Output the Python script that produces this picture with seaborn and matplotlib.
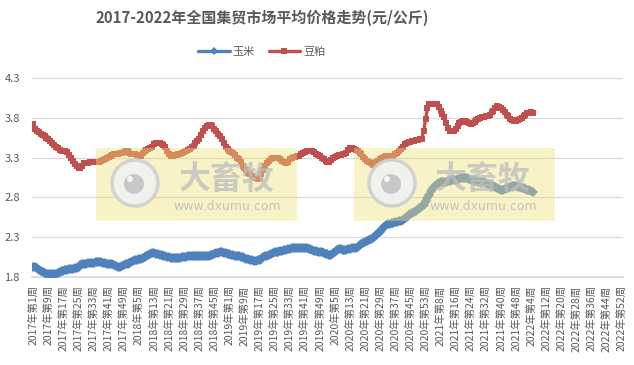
import seaborn as sns
import matplotlib.pyplot as plt
from matplotlib.patches import Rectangle, Ellipse
from matplotlib.lines import Line2D
import numpy as np
import pandas as pd

# week labels: 2017-2022, 2020 has 53 weeks
years = [2017, 2018, 2019, 2020, 2021, 2022]
weeks_per_year = [52, 52, 52, 53, 52, 52]
week_labels = [f"{y}年第{w}周" for y, n in zip(years, weeks_per_year) for w in range(1, n + 1)]

# 豆粕 (soybean meal), yuan/kg, weekly
soymeal = [
    # 2017
    3.72, 3.66, 3.64, 3.62, 3.60, 3.58, 3.57, 3.55, 3.53, 3.51, 3.48, 3.46, 3.44,
    3.42, 3.40, 3.39, 3.39, 3.38, 3.37, 3.33, 3.30, 3.26, 3.22, 3.19, 3.17, 3.17,
    3.20, 3.23, 3.23, 3.23, 3.24, 3.24, 3.24, 3.24, 3.25, 3.25, 3.26, 3.27, 3.28,
    3.30, 3.31, 3.32, 3.33, 3.34, 3.34, 3.35, 3.36, 3.36, 3.37, 3.38, 3.38, 3.36,
    # 2018
    3.35, 3.34, 3.34, 3.33, 3.32, 3.32, 3.36, 3.39, 3.40, 3.41, 3.42, 3.44, 3.47,
    3.49, 3.49, 3.48, 3.47, 3.46, 3.44, 3.39, 3.35, 3.32, 3.32, 3.33, 3.33, 3.34,
    3.35, 3.36, 3.37, 3.38, 3.40, 3.41, 3.43, 3.45, 3.48, 3.51, 3.54, 3.58, 3.63,
    3.67, 3.70, 3.71, 3.71, 3.70, 3.66, 3.63, 3.60, 3.57, 3.53, 3.48, 3.44, 3.41,
    # 2019
    3.39, 3.37, 3.36, 3.33, 3.30, 3.28, 3.24, 3.20, 3.17, 3.14, 3.11, 3.09, 3.07,
    3.05, 3.04, 3.03, 3.05, 3.09, 3.15, 3.20, 3.23, 3.26, 3.28, 3.29, 3.30, 3.30,
    3.29, 3.28, 3.26, 3.24, 3.23, 3.25, 3.28, 3.30, 3.31, 3.31, 3.32, 3.32, 3.34,
    3.36, 3.37, 3.38, 3.38, 3.38, 3.38, 3.37, 3.35, 3.33, 3.32, 3.30, 3.28, 3.26,
    # 2020
    3.25, 3.25, 3.27, 3.29, 3.31, 3.32, 3.33, 3.33, 3.34, 3.34, 3.36, 3.40, 3.42,
    3.42, 3.41, 3.40, 3.38, 3.36, 3.34, 3.31, 3.28, 3.26, 3.25, 3.23, 3.21, 3.22,
    3.24, 3.26, 3.28, 3.29, 3.31, 3.32, 3.32, 3.32, 3.32, 3.32, 3.34, 3.36, 3.38,
    3.41, 3.44, 3.47, 3.49, 3.50, 3.50, 3.51, 3.51, 3.52, 3.52, 3.53, 3.54, 3.63,
    3.78,
    # 2021
    3.92, 3.97, 3.98, 3.98, 3.97, 3.97, 3.94, 3.89, 3.85, 3.81, 3.73, 3.67, 3.64,
    3.63, 3.63, 3.66, 3.70, 3.73, 3.75, 3.76, 3.76, 3.75, 3.73, 3.72, 3.73, 3.75,
    3.77, 3.79, 3.80, 3.81, 3.81, 3.82, 3.82, 3.84, 3.87, 3.89, 3.92, 3.95, 3.94,
    3.92, 3.90, 3.87, 3.84, 3.82, 3.79, 3.77, 3.76, 3.76, 3.77, 3.78, 3.80, 3.82,
    # 2022
    3.84, 3.86, 3.86, 3.87, 3.86,
]

# 玉米 (corn), yuan/kg, weekly
corn = [
    # 2017
    1.93, 1.92, 1.91, 1.89, 1.88, 1.86, 1.85, 1.84, 1.84, 1.84, 1.84, 1.84, 1.84,
    1.85, 1.86, 1.87, 1.88, 1.89, 1.89, 1.90, 1.90, 1.90, 1.91, 1.91, 1.93, 1.95,
    1.96, 1.97, 1.97, 1.98, 1.98, 1.98, 1.98, 1.99, 1.99, 1.99, 1.99, 1.98, 1.98,
    1.97, 1.97, 1.97, 1.96, 1.95, 1.94, 1.93, 1.93, 1.94, 1.95, 1.96, 1.97, 1.98,
    # 2018
    1.99, 2.00, 2.01, 2.02, 2.03, 2.03, 2.04, 2.05, 2.07, 2.08, 2.09, 2.10, 2.10,
    2.09, 2.09, 2.08, 2.08, 2.07, 2.06, 2.05, 2.05, 2.04, 2.04, 2.04, 2.04, 2.04,
    2.04, 2.05, 2.05, 2.05, 2.06, 2.06, 2.06, 2.06, 2.06, 2.06, 2.06, 2.06, 2.06,
    2.07, 2.07, 2.07, 2.08, 2.08, 2.09, 2.10, 2.10, 2.11, 2.11, 2.10, 2.10, 2.09,
    # 2019
    2.09, 2.08, 2.08, 2.07, 2.07, 2.06, 2.05, 2.05, 2.04, 2.03, 2.03, 2.02, 2.01,
    2.00, 2.00, 2.01, 2.02, 2.03, 2.05, 2.06, 2.07, 2.08, 2.09, 2.10, 2.11, 2.12,
    2.12, 2.13, 2.13, 2.14, 2.14, 2.15, 2.15, 2.16, 2.16, 2.17, 2.17, 2.17, 2.17,
    2.16, 2.16, 2.16, 2.15, 2.15, 2.14, 2.13, 2.13, 2.12, 2.11, 2.11, 2.10, 2.09,
    # 2020
    2.09, 2.08, 2.08, 2.10, 2.12, 2.14, 2.15, 2.15, 2.14, 2.14, 2.14, 2.15, 2.15,
    2.16, 2.16, 2.16, 2.18, 2.20, 2.22, 2.23, 2.24, 2.25, 2.27, 2.28, 2.29, 2.31,
    2.33, 2.35, 2.37, 2.40, 2.43, 2.46, 2.47, 2.47, 2.48, 2.48, 2.49, 2.49, 2.50,
    2.50, 2.52, 2.54, 2.56, 2.58, 2.59, 2.60, 2.62, 2.63, 2.65, 2.67, 2.69, 2.71,
    2.75,
    # 2021
    2.79, 2.83, 2.88, 2.92, 2.95, 2.97, 2.98, 2.99, 3.00, 3.00, 3.00, 3.01, 3.01,
    3.02, 3.02, 3.02, 3.03, 3.03, 3.04, 3.04, 3.05, 3.04, 3.03, 3.02, 3.02, 3.01,
    3.01, 3.00, 3.00, 3.00, 2.99, 2.98, 2.97, 2.96, 2.96, 2.94, 2.93, 2.92, 2.91,
    2.90, 2.90, 2.91, 2.92, 2.92, 2.93, 2.94, 2.94, 2.94, 2.93, 2.93, 2.92, 2.92,
    # 2022
    2.91, 2.90, 2.89, 2.88, 2.87,
]

y_ticks = [1.8, 2.3, 2.8, 3.3, 3.8, 4.3]

sns.set_theme(style="white")
plt.rcParams['font.family'] = ['Noto Sans CJK SC', 'DejaVu Sans']

df = pd.DataFrame({
    "pos": list(range(len(corn))) * 2,
    "price": corn + soymeal,
    "item": ["玉米"] * len(corn) + ["豆粕"] * len(soymeal),
})

blue = "#4F81BD"
red = "#C0504D"
text_gray = "#595959"

fig = plt.figure(figsize=(6.34, 3.65), dpi=100)
ax = fig.add_axes([0.051, 0.241, 0.931, 0.545])

sns.lineplot(data=df, x="pos", y="price", hue="item", style="item",
             palette={"玉米": blue, "豆粕": red},
             markers={"玉米": "D", "豆粕": "s"}, dashes=False,
             markersize=4.8, markeredgewidth=0, linewidth=2.4,
             legend=False, ax=ax, zorder=3)

ax.set_xlim(-0.5, len(week_labels) - 0.5)
ax.set_ylim(1.8, 4.3)
ax.set_yticks(y_ticks)
ax.set_yticklabels([f"{v:.1f}" for v in y_ticks])
ax.set_xticks(range(0, len(week_labels), 8))
ax.set_xticklabels(week_labels[::8], rotation=90, fontsize=7.5, color=text_gray)
ax.tick_params(axis="y", labelsize=8, colors=text_gray, length=0, pad=9)
ax.tick_params(axis="x", length=0, pad=6)
ax.grid(axis="y", color="#d9d9d9", linewidth=0.9)
ax.set_xlabel("")
ax.set_ylabel("")
for side in ["top", "right", "left"]:
    ax.spines[side].set_visible(False)
ax.spines["bottom"].set_color("#d9d9d9")

fig.text(0.413, 0.95, "2017-2022年全国集贸市场平均价格走势(元/公斤)",
         ha="center", va="center", fontsize=10.8, fontweight="bold", color=text_gray)

handles = [
    Line2D([], [], color=blue, lw=2.4, marker="D", markersize=4.5, markeredgewidth=0),
    Line2D([], [], color=red, lw=2.4, marker="s", markersize=4.5, markeredgewidth=0),
]
fig.legend(handles, ["玉米", "豆粕"], loc="center", bbox_to_anchor=(0.413, 0.857),
           ncol=2, frameon=False, fontsize=8, handlelength=2.8, columnspacing=1.2,
           handletextpad=0.3, labelcolor=text_gray)

# watermark boxes drawn over the chart (pixel positions turned into figure fractions)
W, H = 634, 365
for bx, cx, tx in [(96, 135, 227), (354, 392, 483)]:
    fig.patches.append(Rectangle((bx / W, 1 - 221 / H), 201 / W, 73 / H,
                                 transform=fig.transFigure, facecolor="#f0e07a",
                                 alpha=0.42, edgecolor="none", zorder=5))
    fig.patches.append(Ellipse((cx / W, 1 - 183 / H), 46 / W, 46 / H,
                               transform=fig.transFigure, facecolor="#f2f2f2",
                               edgecolor="#cfcfcf", lw=2.5, alpha=0.9, zorder=6))
    fig.patches.append(Ellipse(((cx - 1) / W, 1 - 184 / H), 20 / W, 20 / H,
                               transform=fig.transFigure, facecolor="#c4c4c4",
                               edgecolor="none", alpha=0.9, zorder=7))
    fig.patches.append(Ellipse(((cx - 5) / W, 1 - 179 / H), 6 / W, 6 / H,
                               transform=fig.transFigure, facecolor="#f5f5f5",
                               edgecolor="none", zorder=8))
    fig.text(tx / W, 1 - 180 / H, "大畜牧", ha="center", va="center", fontsize=23,
             fontweight="bold", color="#bdbdbd", alpha=0.75, zorder=7)
    fig.text(tx / W, 1 - 206 / H, "www.dxumu.com", ha="center", va="center",
             fontsize=9, color="#bdbdbd", alpha=0.85, zorder=7,
             family=["DejaVu Sans"])

fig.savefig("out.png", dpi=100)
